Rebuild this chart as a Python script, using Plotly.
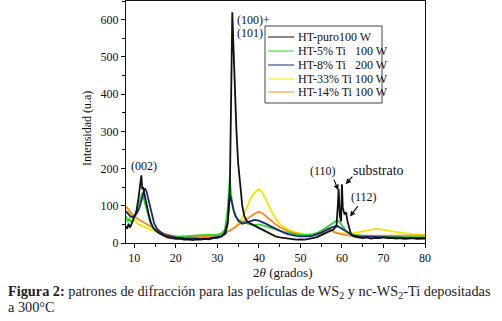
import plotly.graph_objects as go

# ---- data (2theta, intensity) ----
puro = [(8,45),(8.3,38),(8.6,52),(9,42),(9.5,55),(10,68),(10.5,85),(11,120),(11.3,150),(11.7,182),(11.9,145),(12.1,150),(12.5,128),(13,98),(13.5,75),(14,55),(14.5,42),(15,35),(16,26),(17,20),(18,15),(19,13),(20,11),(21,12),(22,9),(23,10),(24,8),(25,10),(26,9),(27,11),(28,10),(29,13),(30,14),(31,18),(31.8,28),(32.5,55),(33,140),(33.3,380),(33.6,620),(33.9,520),(34.2,420),(34.6,300),(35,215),(35.5,150),(36,100),(36.5,72),(37,60),(38,52),(39,46),(40,42),(41,36),(42,28),(43,23),(44,18),(45,15),(46,13),(47,11),(48,10),(49,9),(50,10),(51,9),(52,11),(53,13),(54,16),(55,21),(56,27),(57,32),(58,36),(58.7,48),(59.0,100),(59.2,145),(59.5,72),(59.8,58),(60.0,158),(60.2,95),(60.6,78),(61.0,82),(61.3,60),(61.7,40),(62.2,22),(63,17),(64,14),(65,13),(66,15),(67,12),(68,14),(69,13),(70,15),(71,13),(72,14),(73,12),(74,13),(75,11),(76,12),(77,13),(78,11),(79,12),(80,12)]

ti5 = [(8,72),(8.4,58),(8.8,65),(9.3,55),(9.8,68),(10.3,75),(10.8,92),(11.3,110),(11.6,125),(11.9,135),(12.3,118),(12.7,100),(13.2,78),(13.7,60),(14.2,45),(15,35),(16,26),(17,21),(18,18),(19,17),(20,16),(22,18),(24,20),(26,21),(28,22),(30,22),(31,26),(31.8,35),(32.4,80),(32.8,150),(33.0,175),(33.3,130),(33.7,95),(34.2,75),(35,63),(36,56),(37,52),(38,50),(39,48),(40,50),(41,47),(42,43),(43,40),(44,36),(45,33),(46,30),(47,27),(48,25),(49,23),(50,22),(51,21),(52,22),(53,24),(54,27),(55,33),(56,40),(57,48),(58,55),(58.7,60),(59.3,58),(59.8,50),(60.3,42),(61,32),(62,25),(63,22),(65,20),(67,19),(69,18),(71,18),(73,17),(75,16),(77,16),(80,15)]

ti8 = [(8,85),(8.5,78),(9,72),(9.5,70),(10,72),(10.5,78),(11,88),(11.5,105),(12,128),(12.5,147),(12.9,140),(13.3,122),(13.8,95),(14.3,70),(14.8,52),(15.5,38),(16.5,28),(17.5,21),(18.5,18),(20,15),(22,13),(24,12),(26,12),(28,13),(30,15),(31,18),(32,25),(32.5,55),(32.8,100),(33.1,128),(33.5,110),(34,85),(34.5,70),(35,60),(36,52),(37,55),(38,58),(39,62),(40,60),(41,56),(42,50),(43,44),(44,38),(45,33),(46,28),(47,24),(48,21),(49,19),(50,18),(51,17),(52,18),(53,20),(54,23),(55,28),(56,34),(57,40),(58,44),(59,45),(59.7,40),(60.5,33),(61.5,26),(62.5,21),(64,18),(66,17),(68,16),(70,16),(72,15),(74,15),(76,14),(78,14),(80,14)]

ti33 = [(8,100),(8.5,88),(9,78),(9.5,70),(10,62),(10.5,56),(11,50),(12,45),(13,40),(14,35),(15,30),(16,26),(17,22),(18,20),(19,19),(20,18),(22,17),(24,18),(26,17),(28,19),(30,21),(31,24),(32,28),(33,33),(34,40),(35,52),(36,68),(37,92),(37.8,115),(38.5,128),(39.2,138),(40,145),(40.7,138),(41.3,125),(42,110),(42.7,92),(43.5,75),(44.3,62),(45,52),(46,43),(47,36),(48,31),(49,28),(50,25),(51,24),(52,23),(53,23),(54,25),(55,28),(56,32),(57,37),(57.7,33),(58.5,28),(59.5,26),(61,25),(62,26),(63,27),(64,29),(65,31),(66,33),(67,35),(68,38),(69,37),(70,36),(71,34),(72,31),(73,29),(74,27),(75,26),(76,25),(77,24),(78,23),(79,23),(80,22)]

ti14 = [(8,98),(8.5,90),(9,83),(9.5,77),(10,72),(10.5,67),(11,63),(12,57),(13,50),(14,43),(15,37),(16,31),(17,26),(18,22),(19,20),(20,18),(22,16),(24,16),(26,17),(28,18),(30,20),(31,23),(32,27),(33,33),(34,40),(35,48),(36,56),(37,65),(38,72),(39,79),(40,84),(40.8,80),(41.5,74),(42.3,66),(43,58),(44,50),(45,43),(46,37),(47,32),(48,28),(49,25),(50,23),(51,21),(52,20),(53,20),(54,22),(55,25),(56,32),(56.7,40),(57.3,36),(58,30),(59,26),(60,23),(61,21),(62,20),(64,20),(66,21),(68,22),(70,22),(72,21),(74,20),(76,20),(78,20),(80,20)]

series_names = ["HT-puro100 W", "HT-5% Ti\u00a0\u00a0\u00a0100 W", "HT-8% Ti\u00a0\u00a0\u00a0200 W",
                "HT-33% Ti 100 W", "HT-14% Ti 100 W"]
series_colors = ["#111111", "#2fd12f", "#1c2a78", "#f2e600", "#ff8a1e"]
x_ticks = [10, 20, 30, 40, 50, 60, 70, 80]
y_ticks = [0, 100, 200, 300, 400, 500, 600]

SERIF = "Liberation Serif"
W, H = 502, 321
L, R, T, B = 126, 77, 1, 78
PW, PH = W - L - R, H - T - B
X_RANGE = [8, 80]
Y_RANGE = [0, 650]


def px(xp):
    return (xp - L) / PW


def py(yp):
    return 1 - (yp - T) / PH


fig = go.Figure()
series = [puro, ti5, ti8, ti33, ti14]
draw_order = [3, 4, 1, 2, 0]
for i in draw_order:
    data = series[i]
    fig.add_trace(go.Scatter(
        x=[p[0] for p in data], y=[p[1] for p in data], mode="lines", name=series_names[i],
        line=dict(color=series_colors[i], width=1.8), showlegend=False))

# legend drawn as box + swatches + text
fig.add_shape(type="rect", xref="paper", yref="paper", x0=px(265), x1=px(382), y0=py(103), y1=py(26),
              line=dict(color="#444", width=1), fillcolor="white", layer="above")
entry_y = [37, 51, 65, 79, 92]
for i, name in enumerate(series_names):
    fig.add_shape(type="line", xref="paper", yref="paper", x0=px(268), x1=px(294),
                  y0=py(entry_y[i]), y1=py(entry_y[i]),
                  line=dict(color=series_colors[i], width=1), layer="above")
    fig.add_annotation(x=px(296), y=py(entry_y[i]), xref="paper", yref="paper", xanchor="left",
                       yanchor="middle", text=name, showarrow=False,
                       font=dict(family=SERIF, size=12, color="#111"))

ann_font = dict(family=SERIF, size=12, color="#111")
fig.add_annotation(x=12.38, y=207, text="(002)", showarrow=False, font=ann_font)
fig.add_annotation(x=34.25, y=600, xanchor="left", text="(100)+", showarrow=False, font=ann_font)
fig.add_annotation(x=34.25, y=565, xanchor="left", text="(101)", showarrow=False, font=ann_font)
fig.add_annotation(x=55.37, y=193, text="(110)", showarrow=False, font=ann_font)
fig.add_annotation(x=68.75, y=196, text="substrato", showarrow=False,
                   font=dict(family=SERIF, size=14, color="#111"))
fig.add_annotation(x=65.43, y=124, text="(112)", showarrow=False, font=ann_font)
arrow = dict(showarrow=True, arrowhead=2, arrowsize=0.9, arrowwidth=1.2, arrowcolor="#111", text="")
fig.add_annotation(x=59.12, y=142, ax=-5, ay=-12, **arrow)
fig.add_annotation(x=60.9, y=158, ax=8, ay=-9, **arrow)
fig.add_annotation(x=61.94, y=71, ax=9, ay=-12, **arrow)

fig.add_annotation(x=px(87), y=py(129), xref="paper", yref="paper", xanchor="center", yanchor="middle",
                   text="Intensidad (u.a)", textangle=-90, showarrow=False,
                   font=dict(family=SERIF, size=12, color="#111"))
fig.add_annotation(x=px(282), y=py(272), xref="paper", yref="paper", xanchor="center", yanchor="middle",
                   text="2<i>θ</i> (grados)", showarrow=False, font=dict(family=SERIF, size=13, color="#111"))
fig.add_annotation(x=px(6), y=py(292), xref="paper", yref="paper", xanchor="left", yanchor="middle",
                   text="<b>Figura 2:</b> patrones de difracción para las películas de WS<sub>2</sub> y nc-WS<sub>2</sub>-Ti depositadas",
                   showarrow=False, font=dict(family=SERIF, size=14.3, color="#222"))
fig.add_annotation(x=px(6), y=py(307), xref="paper", yref="paper", xanchor="left", yanchor="middle",
                   text="a 300°C", showarrow=False, font=dict(family=SERIF, size=14.3, color="#222"))

axis_common = dict(showgrid=False, zeroline=False, showline=True, linecolor="#111", linewidth=1,
                   mirror=True, ticks="outside", ticklen=4, tickcolor="#111",
                   tickfont=dict(family=SERIF, size=12, color="#111"))
fig.update_xaxes(range=X_RANGE, tickvals=x_ticks,
                 minor=dict(ticks="outside", ticklen=3, dtick=5, tick0=0, tickcolor="#111"),
                 **axis_common)
fig.update_yaxes(range=Y_RANGE, tickvals=y_ticks,
                 minor=dict(ticks="outside", ticklen=3, dtick=50, tick0=0, tickcolor="#111"),
                 **axis_common)

fig.update_layout(
    width=W, height=H, margin=dict(l=L, r=R, t=T, b=B),
    paper_bgcolor="white", plot_bgcolor="white", showlegend=False,
    xaxis2=dict(overlaying="x", side="top", range=X_RANGE, tickvals=x_ticks, ticks="inside", ticklen=5,
                tickcolor="#111", showticklabels=False, showgrid=False, zeroline=False, showline=False,
                minor=dict(ticks="inside", ticklen=3, dtick=5, tick0=0, tickcolor="#111")),
    yaxis2=dict(overlaying="y", side="right", range=Y_RANGE, tickvals=y_ticks, ticks="inside", ticklen=5,
                tickcolor="#111", showticklabels=False, showgrid=False, zeroline=False, showline=False,
                minor=dict(ticks="inside", ticklen=3, dtick=50, tick0=0, tickcolor="#111")),
)
fig.write_html("out.html", config={"displayModeBar": False},
               post_script="document.body.style.margin='0';")
